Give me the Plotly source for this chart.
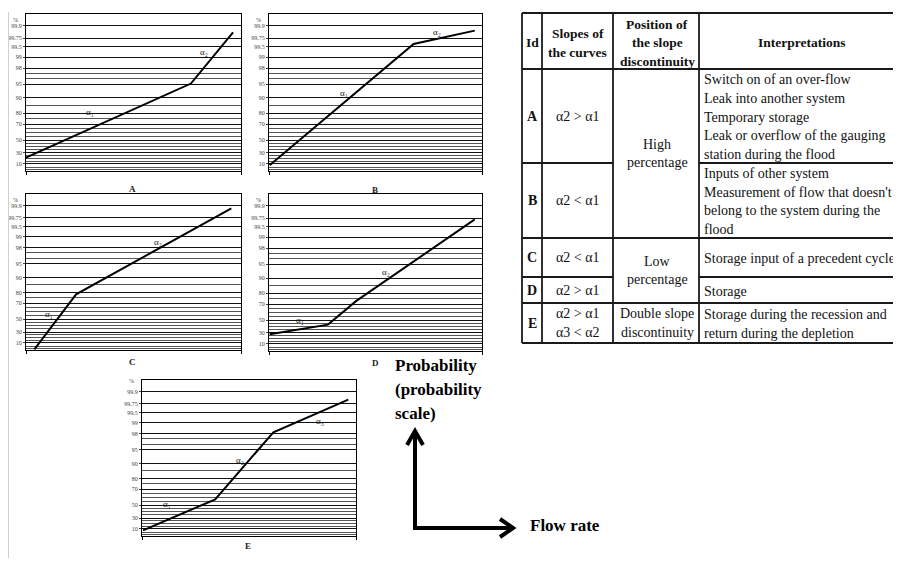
import numpy as np
import plotly.graph_objects as go

W, H = 901, 561

# ---------------- data ----------------
# probability-scale tick labels and their position on the chart's linear scale (0-100)
PROB_TICKS = [10, 30, 50, 70, 80, 90, 95, 98, 99, 99.5, 99.75, 99.9]
PROB_LABELS = ["10", "30", "50", "70", "80", "90", "95", "98", "99", "99.5", "99.75", "99.9"]
SCALE_POS = [4.5, 11.5, 19.7, 29.9, 36.9, 46.5, 55.4, 65.6, 72.6, 79.0, 84.7, 92.4]
MINOR_PROBS = [2, 5, 15, 20, 25, 35, 40, 45, 55, 60, 65, 75, 85, 96, 97]

PANEL_IDS = ["A", "B", "C", "D", "E"]
# curves: flow rate (x, 0-100) vs probability-scale position (y, 0-100)
A_X = [0.0, 76.7, 96.3]
A_Y = [8.5, 55.7, 88.3]
B_X = [0.3, 67.9, 96.6]
B_Y = [3.6, 80.9, 89.4]
C_X = [3.9, 23.3, 95.5]
C_Y = [0.4, 35.7, 90.8]
D_X = [0.3, 27.7, 41.0, 96.6]
D_Y = [10.6, 16.8, 31.9, 83.8]
E_X = [0.5, 34.2, 61.4, 96.4]
E_Y = [3.6, 23.5, 66.5, 87.4]

# slope labels (alpha_i) per panel
A_ALPHA = [("α₁", 29.8, 37.7), ("α₂", 82.9, 76.0)]
B_ALPHA = [("α₁", 35.2, 49.4), ("α₂", 79.0, 88.3)]
C_ALPHA = [("α₁", 10.9, 23.3), ("α₂", 61.2, 69.4)]
D_ALPHA = [("α₁", 14.4, 19.6), ("α₂", 55.1, 50.4)]
E_ALPHA = [("α₁", 11.7, 20.3), ("α₂", 45.6, 49.0), ("α₃", 83.2, 74.0)]

CURVES_X = [A_X, B_X, C_X, D_X, E_X]
CURVES_Y = [A_Y, B_Y, C_Y, D_Y, E_Y]
ALPHAS = [A_ALPHA, B_ALPHA, C_ALPHA, D_ALPHA, E_ALPHA]

# table
TABLE_HEADER = [["Id"], ["Slopes of", "the curves"], ["Position of", "the slope", "discontinuity"], ["Interpretations"]]
ROW_IDS = ["A", "B", "C", "D", "E"]
ROW_SLOPES = [["α2 > α1"], ["α2 < α1"], ["α2 < α1"], ["α2 > α1"], ["α2 > α1", "α3 < α2"]]
ROW_INTERP = [
    ["Switch on of an over-flow", "Leak into another system", "Temporary storage",
     "Leak or overflow of the gauging", "station during the flood"],
    ["Inputs of other system", "Measurement of flow that doesn't",
     "belong to the system during the", "flood"],
    ["Storage input of a precedent cycle"],
    ["Storage"],
    ["Storage during the recession and", "return during the depletion"],
]
POSITION_TEXT = [["High", "percentage"], ["Low", "percentage"], ["Double slope", "discontinuity"]]
POSITION_SPAN = [(0, 1), (2, 3), (4, 4)]

AXIS_TEXT_Y = ["Probability", "(probability", "scale)"]
AXIS_TEXT_X = "Flow rate"

# ---------------- layout helpers ----------------
# the page body adds an 8px margin before the figure; positions below are page pixels
OFF = 8

def px(x):
    return (x - OFF) / W

def py(y):
    return 1 - (y - OFF) / H

SERIF = "Liberation Serif"

# panel frames in page pixels: left, right, top, bottom
PANEL_BOX = [(26, 241, 14, 171), (269, 482, 14, 171), (26, 241, 194, 350),
             (269, 482, 194, 351), (142, 356, 380, 536)]
PANEL_LABEL_POS = [(127, 182), (375, 183), (127, 362), (375, 363), (243, 553)]

minor_pos = list(np.interp(MINOR_PROBS, [0] + PROB_TICKS, [0] + SCALE_POS))

fig = go.Figure()
annotations = []
shapes = []

for i, pid in enumerate(PANEL_IDS):
    n = "" if i == 0 else str(i + 1)
    l, r, t, b = PANEL_BOX[i]
    fig.add_trace(go.Scatter(x=CURVES_X[i], y=CURVES_Y[i], mode="lines",
                             line=dict(color="black", width=2),
                             xaxis="x" + n, yaxis="y" + n, showlegend=False,
                             hoverinfo="skip"))
    fig.layout["xaxis" + n] = dict(
        domain=[px(l), px(r)], range=[0, 100], anchor="y" + n,
        showline=True, mirror=True, linecolor="black", linewidth=1.2,
        showgrid=False, zeroline=False, tickmode="array", tickvals=[0, 100],
        ticks="outside", ticklen=3, tickcolor="black", showticklabels=False,
        automargin=False, fixedrange=True)
    fig.layout["yaxis" + n] = dict(
        domain=[py(b), py(t)], range=[0, 100], anchor="x" + n,
        showline=True, mirror=True, linecolor="black", linewidth=1.2,
        zeroline=False, tickmode="array", tickvals=SCALE_POS, ticktext=PROB_LABELS,
        ticks="outside", ticklen=2, tickcolor="#444",
        tickfont=dict(family=SERIF, size=6, color="#444"),
        showgrid=True, gridcolor="#111", gridwidth=1.4,
        minor=dict(tickmode="array", tickvals=minor_pos, showgrid=True,
                   gridcolor="#555", gridwidth=1.2, ticks=""),
        automargin=False, fixedrange=True)
    # percent unit label
    annotations.append(dict(x=px(l - 6), y=py(t + 1), xref="paper", yref="paper",
                            text="%", showarrow=False, xanchor="right",
                            font=dict(family=SERIF, size=6, color="#444")))
    # panel letter
    lx, ly = PANEL_LABEL_POS[i]
    annotations.append(dict(x=px(lx), y=py(ly), xref="paper", yref="paper",
                            text="<b>%s</b>" % pid, showarrow=False,
                            font=dict(family=SERIF, size=9, color="#222")))
    for lab, ax_, ay_ in ALPHAS[i]:
        annotations.append(dict(x=ax_, y=ay_, xref="x" + n, yref="y" + n,
                                text=lab, showarrow=False,
                                font=dict(family=SERIF, size=9, color="#222")))

# faint border at left of picture
shapes.append(dict(type="line", xref="paper", yref="paper", x0=px(8.5), x1=px(8.5),
                   y0=py(12), y1=py(558), line=dict(color="#d0d0d0", width=1)))

# ---------------- table ----------------
COLS = [522, 542, 613, 699, 905]
ROWS = [13, 69, 163, 238, 277, 303, 343]
LS = 18.8
TCOL = "#111"
tline = dict(color="#1a1a1a", width=1.8)

def hline(y, x0, x1):
    shapes.append(dict(type="line", xref="paper", yref="paper", x0=px(x0), x1=px(x1),
                       y0=py(y), y1=py(y), line=tline))

def vline(x, y0, y1):
    shapes.append(dict(type="line", xref="paper", yref="paper", x0=px(x), x1=px(x),
                       y0=py(y0), y1=py(y1), line=tline))

def put_lines(lines, x, yc, anchor="center", bold=False, size=14):
    nl = len(lines)
    for k, s in enumerate(lines):
        y = yc + (k - (nl - 1) / 2) * LS
        annotations.append(dict(x=px(x), y=py(y), xref="paper", yref="paper",
                                text=("<b>%s</b>" % s) if bold else s, showarrow=False,
                                xanchor=anchor, yanchor="middle",
                                font=dict(family=SERIF, size=size, color=TCOL)))

# borders
hline(ROWS[0], COLS[0], COLS[-1])
hline(ROWS[1], COLS[0], COLS[-1])
merged_inner = set()
for a, bnd in POSITION_SPAN:
    for k in range(a, bnd):
        merged_inner.add(k)
for k in range(len(ROW_IDS)):
    yb = ROWS[k + 2]
    if k in merged_inner:
        hline(yb, COLS[0], COLS[2])
        hline(yb, COLS[3], COLS[-1])
    else:
        hline(yb, COLS[0], COLS[-1])
for c in COLS[:-1]:
    vline(c, ROWS[0], ROWS[-1])

# header
hc = (ROWS[0] + ROWS[1]) / 2 + 2
centers = [(COLS[0] + COLS[1]) / 2, (COLS[1] + COLS[2]) / 2, (COLS[2] + COLS[3]) / 2 + 1, 802]
for j, lines in enumerate(TABLE_HEADER):
    put_lines(lines, centers[j], hc, bold=True, size=13.5)

# body
for k in range(len(ROW_IDS)):
    yc = (ROWS[k + 1] + ROWS[k + 2]) / 2
    put_lines([ROW_IDS[k]], centers[0], yc, bold=True)
    put_lines(ROW_SLOPES[k], centers[1], yc)
    put_lines(ROW_INTERP[k], COLS[3] + 3, yc + 1, anchor="left")
for lines, (a, bnd) in zip(POSITION_TEXT, POSITION_SPAN):
    yc = (ROWS[a + 1] + ROWS[bnd + 2]) / 2
    put_lines(lines, centers[2], yc)

# ---------------- axis-explanation arrows ----------------
aw = dict(color="black", width=4)
ox, oy = 415, 528
shapes.append(dict(type="path", xref="paper", yref="paper",
                   path="M %f,%f L %f,%f" % (px(ox), py(oy + 2), px(ox), py(431)), line=aw))
shapes.append(dict(type="path", xref="paper", yref="paper",
                   path="M %f,%f L %f,%f L %f,%f" % (px(407), py(445), px(ox), py(431), px(423), py(445)),
                   line=aw))
shapes.append(dict(type="path", xref="paper", yref="paper",
                   path="M %f,%f L %f,%f" % (px(ox - 2), py(oy), px(513), py(oy)), line=aw))
shapes.append(dict(type="path", xref="paper", yref="paper",
                   path="M %f,%f L %f,%f L %f,%f" % (px(500), py(519), px(513), py(oy), px(500), py(537)),
                   line=aw))
for k, s in enumerate(AXIS_TEXT_Y):
    annotations.append(dict(x=px(393), y=py(365 + k * 24), xref="paper", yref="paper",
                            text="<b>%s</b>" % s, showarrow=False, xanchor="left",
                            yanchor="middle", font=dict(family=SERIF, size=17, color="black")))
annotations.append(dict(x=px(528), y=py(525), xref="paper", yref="paper",
                        text="<b>%s</b>" % AXIS_TEXT_X, showarrow=False, xanchor="left",
                        yanchor="middle", font=dict(family=SERIF, size=17, color="black")))

fig.update_layout(width=W, height=H, margin=dict(l=0, r=0, t=0, b=0),
                  paper_bgcolor="white", plot_bgcolor="white",
                  annotations=annotations, shapes=shapes, showlegend=False)

fig.write_html("out.html")
